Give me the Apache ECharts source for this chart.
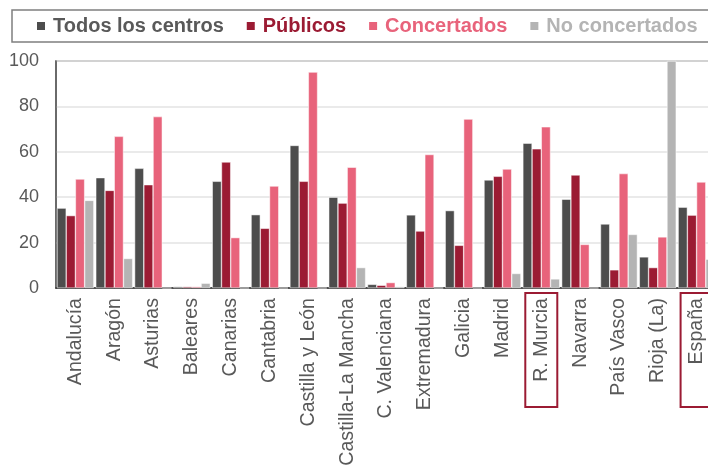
<!DOCTYPE html>
<html>
<head>
<meta charset="utf-8">
<script src="https://cdn.jsdelivr.net/npm/echarts@6/dist/echarts.min.js"></script>
<style>
  html, body { margin: 0; padding: 0; background: #fff; }
  #chart { width: 708px; height: 466px; }
</style>
</head>
<body>
<div id="chart"></div>
<script>
var regiones = ['Andalucía', 'Aragón', 'Asturias', 'Baleares', 'Canarias', 'Cantabria',
  'Castilla y León', 'Castilla-La Mancha', 'C. Valenciana', 'Extremadura', 'Galicia',
  'Madrid', 'R. Murcia', 'Navarra', 'País Vasco', 'Rioja (La)', 'España'];
var destacadas = ['R. Murcia', 'España'];

var todos = [35.2, 48.6, 52.7, 0.6, 47.0, 32.3, 62.8, 40.0, 1.6, 32.2, 34.1, 47.6, 63.8, 39.1, 28.2, 13.7, 35.6];
var publicos = [31.9, 43.0, 45.5, 0.6, 55.5, 26.3, 47.0, 37.4, 1.2, 25.1, 18.8, 49.2, 61.3, 49.8, 8.0, 9.0, 32.1];
var concertados = [48.0, 66.8, 75.5, 0.6, 22.2, 44.9, 95.1, 53.2, 2.4, 58.8, 74.4, 52.4, 71.0, 19.2, 50.4, 22.5, 46.7];
var noConcertados = [38.6, 13.0, 0, 2.1, 0, 0, 0, 9.0, 0.6, 0, 0, 6.4, 4.0, 0, 23.6, 100, 12.7];

var nombres = ['Todos los centros', 'Públicos', 'Concertados', 'No concertados'];
var colores = ['#4d4d4d', '#9b1b33', '#e8637b', '#b4b4b4'];
var textoLeyenda = ['#595959', '#9b1b33', '#e8637b', '#b4b4b4'];
var yTicks = [0, 20, 40, 60, 80, 100];

var valores = [todos, publicos, concertados, noConcertados];

var myChart = echarts.init(document.getElementById('chart'));
var option = {
  animation: false,
  textStyle: { fontFamily: 'Liberation Sans, Arial, sans-serif' },
  legend: {
    left: 12,
    top: 10,
    width: 760,
    padding: [6, 40, 6, 23],
    borderColor: '#7f7f7f',
    borderWidth: 1.5,
    itemWidth: 10,
    itemHeight: 10,
    itemGap: 21,
    icon: 'rect',
    data: nombres.map(function (n, i) {
      return { name: n, textStyle: { color: textoLeyenda[i] } };
    }),
    textStyle: { fontSize: 20, fontWeight: 'bold', padding: [0, 0, 0, 2] }
  },
  grid: {
    left: 56,
    top: 61,
    width: 660,
    height: 227,
    outerBoundsMode: 'none',
    containLabel: false,
    show: true,
    borderColor: '#7f7f7f',
    borderWidth: 1.5
  },
  xAxis: {
    type: 'category',
    data: regiones,
    axisLine: { lineStyle: { color: '#262626', width: 1.5 } },
    axisTick: { show: false },
    axisLabel: {
      rotate: 90,
      interval: 0,
      margin: 5,
      color: '#595959',
      fontSize: 19.6,
      hideOverlap: false,
      formatter: function (v) {
        return destacadas.indexOf(v) >= 0 ? '{b|' + v + '}' : '{n|' + v + '}';
      },
      rich: {
        n: { fontSize: 19.6, color: '#595959', padding: [6, 5, 6, 5] },
        b: {
          fontSize: 19.6, color: '#595959', padding: [6, 5, 6, 5],
          width: 104, align: 'right',
          borderColor: '#9b1b33', borderWidth: 2
        }
      }
    }
  },
  yAxis: {
    type: 'value',
    min: yTicks[0],
    max: yTicks[yTicks.length - 1],
    interval: 20,
    axisLine: { show: true, lineStyle: { color: '#595959', width: 1.5 } },
    axisLabel: { color: '#595959', fontSize: 18, margin: 17 },
    splitLine: { lineStyle: { color: '#e3e3e3', width: 1.5 } }
  },
  series: valores.map(function (d, i) {
    return {
      name: nombres[i],
      type: 'bar',
      data: d,
      barGap: '0%',
      barCategoryGap: '5%',
      itemStyle: { color: colores[i], borderColor: '#ffffff', borderWidth: 0.5 }
    };
  })
};
myChart.setOption(option);
</script>
</body>
</html>
